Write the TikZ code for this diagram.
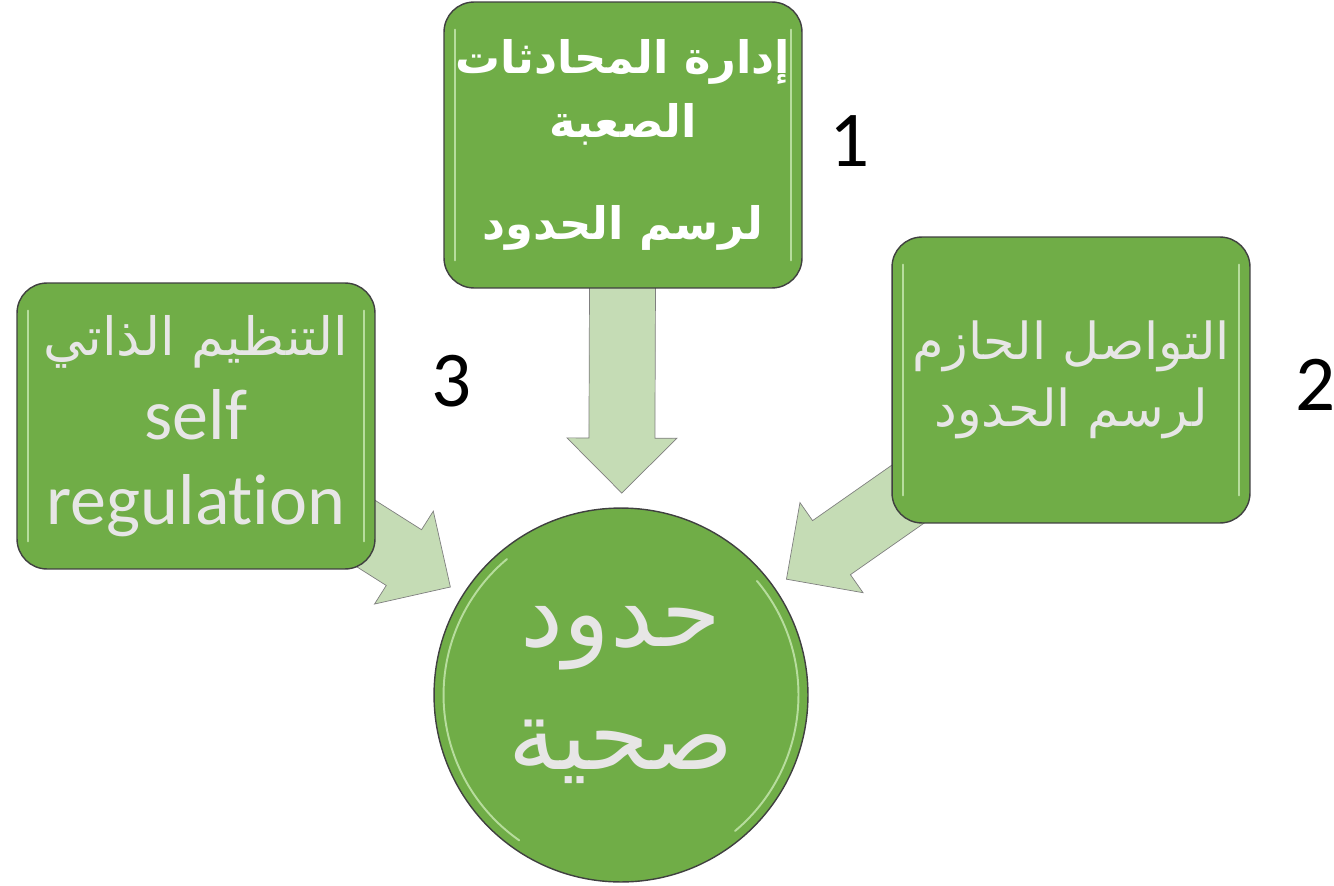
\documentclass[tikz,border=0pt]{standalone}
\usepackage{fontspec}
\setmainfont{Carlito}[Ligatures=NoCommon]
\newfontfamily\arabicfont[Script=Arabic]{DejaVu Sans}
\TeXXeTstate=1
\usetikzlibrary{calc,backgrounds}

\definecolor{boxgreen}{HTML}{70AD47}
\definecolor{arrowgreen}{HTML}{C5DCB5}
\definecolor{textgrey}{HTML}{E7E6E6}
\definecolor{darkline}{HTML}{404040}
\definecolor{arrowline}{HTML}{7F7F7F}
\definecolor{rimgreen}{HTML}{D6F2C2}

% vastag nyil: #1 doboz -> #2 kor
\newcommand{\blockarrow}[2]{%
	\coordinate (ba-s) at (#1.center);
	\coordinate (ba-t) at ($(#2.center)!4.04cm!(#1.center)$);
	\coordinate (ba-h) at ($(ba-t)!1.1cm!(ba-s)$);
	\filldraw[blockarr] ($(ba-s)!0.66cm!90:(ba-t)$) -- ($(ba-h)!0.66cm!90:(ba-t)$)
	-- ($(ba-h)!1.1cm!90:(ba-t)$) -- (ba-t) -- ($(ba-h)!1.1cm!-90:(ba-t)$)
	-- ($(ba-h)!0.66cm!-90:(ba-t)$) -- ($(ba-s)!0.66cm!-90:(ba-t)$) -- cycle;}

\begin{document}
\begin{tikzpicture}[x=0.02cm,y=-0.02cm,
	rim/.style={draw=rimgreen,line width=1.1pt,line cap=round,opacity=0.7},
	box/.style={draw=darkline,thick,fill=boxgreen,rounded corners=0.6cm,
		minimum width=7.16cm,minimum height=5.72cm,inner sep=0pt,align=center,text=textgrey,
		path picture={
			\draw[rim] ([xshift=0.22cm,yshift=-0.55cm]path picture bounding box.north west)
				-- ([xshift=0.22cm,yshift=0.55cm]path picture bounding box.south west);
			\draw[rim] ([xshift=-0.22cm,yshift=-0.55cm]path picture bounding box.north east)
				-- ([xshift=-0.22cm,yshift=0.55cm]path picture bounding box.south east);}},
	goalnode/.style={draw=darkline,thick,fill=boxgreen,circle,minimum size=7.48cm,
		inner sep=0pt,align=center,text=textgrey,
		path picture={
			\draw[rim] (path picture bounding box.center) ++(130:3.55cm) arc (130:235:3.55cm);
			\draw[rim] (path picture bounding box.center) ++(-50:3.55cm) arc (-50:40:3.55cm);}},
	blockarr/.style={draw=arrowline,fill=arrowgreen,line join=miter},
	num/.style={font=\fontsize{45}{54}\selectfont,inner sep=0pt}]
	
	\useasboundingbox (0,0) rectangle (1334,885);
	
	% dobozok
	\node[box,text=white,font=\arabicfont\bfseries\fontsize{25.5}{36}\selectfont] (manage) at (623,145)
		{\beginR إدارة المحادثات\endR\\ \beginR الصعبة\endR\\[22pt] \beginR لرسم الحدود\endR};
	\node[box,font=\fontsize{41}{48}\selectfont] (selfreg) at (196,426)
		{{\arabicfont\fontsize{30}{48}\selectfont\beginR التنظيم الذاتي\endR}\\ self\\ regulation};
	\node[box,font=\arabicfont\fontsize{29}{38.5}\selectfont] (assert) at (1071,380)
		{\beginR التواصل الحازم\endR\\ \beginR لرسم الحدود\endR};
	
	% kor
	\node[goalnode,font=\arabicfont\fontsize{55}{70}\selectfont] (goal) at (621,695)
		{\beginR حدود\endR\\ \beginR صحية\endR};
	
	% szamok
	\node[num] (n1) at (850,141) {1};
	\node[num] (n2) at (1316,385) {2};
	\node[num] (n3) at (452,381) {3};
	
	% nyilak a dobozok moge
	\begin{scope}[on background layer]
		\blockarrow{manage}{goal}
		\blockarrow{selfreg}{goal}
		\blockarrow{assert}{goal}
	\end{scope}
\end{tikzpicture}
\end{document}
